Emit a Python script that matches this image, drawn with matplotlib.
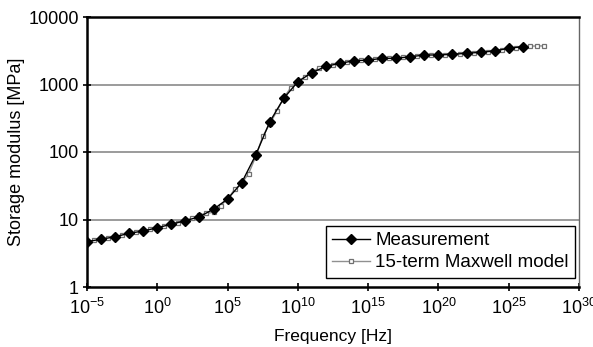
import matplotlib
matplotlib.use("Agg")
import matplotlib.pyplot as plt
import numpy as np

plt.rcParams['font.family'] = ['Liberation Sans', 'DejaVu Sans']
plt.rcParams['mathtext.fontset'] = 'custom'
plt.rcParams['mathtext.rm'] = 'Liberation Sans'
plt.rcParams['mathtext.it'] = 'Liberation Sans'

# Measurement: frequency exponent (log10 Hz) and storage modulus (MPa)
meas_exp = [-5, -4, -3, -2, -1, 0, 1, 2, 3, 4, 5, 6, 7, 8, 9, 10, 11, 12, 13, 14, 15,
            16, 17, 18, 19, 20, 21, 22, 23, 24, 25, 26]
meas_E = [4.7, 5.1, 5.55, 6.25, 6.75, 7.55, 8.5, 9.6, 11.0, 14.2, 20.1, 35, 90, 280, 625,
          1100, 1500, 1860, 2060, 2250, 2300, 2440, 2450, 2580, 2730, 2740, 2800, 2900,
          3000, 3140, 3440, 3630]

# 15-term Maxwell model (read at half decades)
model_exp = [-5, -4.5, -4, -3.5, -3, -2.5, -2, -1.5, -1, -0.5, 0, 0.5, 1, 1.5, 2, 2.5, 3,
             3.5, 4, 4.5, 5, 5.5, 6, 6.5, 7, 7.5, 8, 8.5, 9, 9.5, 10, 10.5, 11, 11.5, 12,
             12.5, 13, 13.5, 14, 14.5, 15, 15.5, 16, 16.5, 17, 17.5, 18, 18.5, 19, 19.5,
             20, 20.5, 21, 21.5, 22, 22.5, 23, 23.5, 24, 24.5, 25, 25.5, 26, 26.5, 27, 27.5]
model_E = [4.6, 4.9, 5.1, 5.3, 5.6, 5.9, 6.2, 6.5, 6.8, 7.2, 7.6, 8.0, 8.5, 9.0, 9.7, 10.5,
           11.8, 12.3, 12.8, 16, 20, 28, 34, 48, 85, 170, 260, 400, 640, 900, 1100, 1300,
           1550, 1750, 1850, 1950, 2050, 2150, 2250, 2280, 2300, 2380, 2440, 2450, 2450,
           2520, 2580, 2660, 2730, 2730, 2740, 2770, 2800, 2850, 2900, 2950, 3000, 3070,
           3140, 3280, 3430, 3530, 3630, 3700, 3720, 3730]

x_tick_exp = [-5, 0, 5, 10, 15, 20, 25, 30]
y_ticks = [1, 10, 100, 1000, 10000]
y_tick_labels = ['1', '10', '100', '1000', '10000']

fig = plt.figure(figsize=(5.93, 3.47), dpi=100)
ax = fig.add_axes([87/593, 1-287/347, (579-87)/593, (287-17)/347])

ax.set_xscale('log')
ax.set_yscale('log')
ax.set_xlim(1e-5, 1e30)
ax.set_ylim(1, 10000)

for yv in [10, 100, 1000]:
    ax.axhline(yv, color='#8a8a8a', lw=1.2, zorder=1)

ax.plot(10.0**np.array(model_exp), model_E, color='#909090', lw=1.0, marker='s',
        markersize=3.2, markerfacecolor='white', markeredgecolor='#707070',
        markeredgewidth=0.9, label='15-term Maxwell model', zorder=2)
ax.plot(10.0**np.array(meas_exp), meas_E, color='black', lw=1.0, marker='D',
        markersize=5, markerfacecolor='black', markeredgecolor='black',
        label='Measurement', zorder=3)

ax.set_xticks([10.0**e for e in x_tick_exp])
ax.set_xticklabels([r'$10^{%d}$' % e for e in x_tick_exp])
ax.set_yticks(y_ticks)
ax.set_yticklabels(y_tick_labels)
ax.minorticks_off()
ax.tick_params(axis='both', direction='inout', length=6, width=1.2, labelsize=13,
               color='black')
ax.tick_params(axis='x', pad=5)
ax.tick_params(axis='y', pad=3)

for s in ['left', 'bottom', 'top']:
    ax.spines[s].set_linewidth(1.8)
    ax.spines[s].set_color('black')
ax.spines['right'].set_linewidth(1.0)
ax.spines['right'].set_color('#666666')

ax.set_xlabel('Frequency [Hz]', fontsize=12.5, labelpad=8)
ax.set_ylabel('Storage modulus [MPa]', fontsize=13, labelpad=2)

handles, labels = ax.get_legend_handles_labels()
leg = ax.legend(handles[::-1], labels[::-1], loc='lower right', fontsize=13.5,
                frameon=True, fancybox=False, edgecolor='black', framealpha=1,
                borderpad=0.35, handlelength=2.0, handletextpad=0.3,
                labelspacing=0.25, bbox_to_anchor=(1.0, 0.02), borderaxespad=0.2)
leg.get_frame().set_linewidth(1.0)

fig.savefig('out.png', dpi=100, facecolor='white')
